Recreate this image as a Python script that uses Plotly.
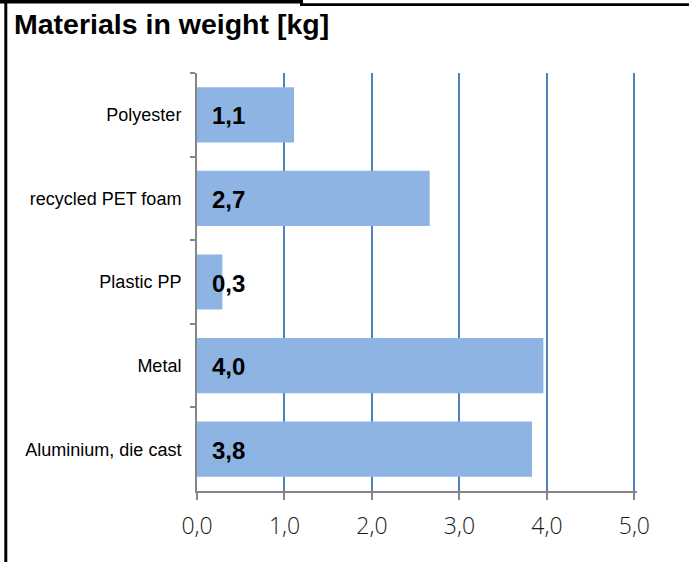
import plotly.graph_objects as go

categories = ["Polyester", "recycled PET foam", "Plastic PP", "Metal", "Aluminium, die cast"]
weights_kg = [1.11, 2.66, 0.29, 3.96, 3.83]
value_labels = ["1,1", "2,7", "0,3", "4,0", "3,8"]
x_tick_values = [0, 1, 2, 3, 4, 5]
x_tick_labels = ["0,0", "1,0", "2,0", "3,0", "4,0", "5,0"]
title_text = "Materials in weight [kg]"

W, H = 689, 562
ML, MR, MT, MB = 197, 52, 73, 71
PW, PH = W - ML - MR, H - MT - MB


def px_x(px):
    return (px - ML) / PW


def px_y(py):
    return (H - MB - py) / PH


fig = go.Figure()
fig.add_trace(go.Bar(
    x=weights_kg, y=categories, orientation="h",
    marker=dict(color="#8EB4E3", line=dict(width=0)),
    hoverinfo="skip",
))

for cat, lab in zip(categories, value_labels):
    fig.add_annotation(
        x=0, y=cat, xref="x", yref="y", text="<b>" + lab + "</b>",
        showarrow=False, xanchor="left", yanchor="middle", xshift=13, yshift=-1,
        font=dict(family="Liberation Sans, Arial", size=24, color="#000000"),
    )

fig.add_annotation(
    x=px_x(12), y=px_y(6), xref="paper", yref="paper", text="<b>" + title_text + "</b>",
    showarrow=False, xanchor="left", yanchor="top",
    font=dict(family="Liberation Sans, Arial", size=28.5, color="#000000"),
)

black_rects = [
    (0, 0, 301, 3.5),
    (300, 3.3, 689, 6),
    (300, 0, 303, 6),
    (4.3, 0, 7.3, 562),
]
for x0, y0, x1, y1 in black_rects:
    fig.add_shape(type="rect", xref="paper", yref="paper",
                  x0=px_x(x0), x1=px_x(x1), y0=px_y(y1), y1=px_y(y0),
                  fillcolor="#000000", line=dict(width=0), layer="above")

fig.update_layout(
    width=W, height=H,
    margin=dict(l=ML, r=MR, t=MT, b=MB, pad=0),
    paper_bgcolor="white", plot_bgcolor="white",
    showlegend=False, bargap=0.34,
    xaxis=dict(
        range=[0, 5.03], tickvals=x_tick_values, ticktext=x_tick_labels,
        showgrid=True, gridcolor="#4F81BD", gridwidth=1.5, zeroline=False,
        showline=True, linecolor="#868686", linewidth=2,
        ticks="outside", ticklen=7, tickwidth=2, tickcolor="#868686",
        tickfont=dict(family="Open Sans", size=23, color="#1a1a1a", weight=300),
        ticklabelstandoff=6,
    ),
    yaxis=dict(
        autorange="reversed", showgrid=False, zeroline=False,
        showline=True, linecolor="#868686", linewidth=2,
        ticks="outside", ticklen=5, tickwidth=2, tickcolor="#868686",
        tickson="boundaries",
        tickfont=dict(family="Liberation Sans, Arial", size=18, color="#000000"),
        ticklabelstandoff=10,
    ),
)

fig.write_html("out.html", config={"displayModeBar": False},
               post_script="document.body.style.margin='0';")
